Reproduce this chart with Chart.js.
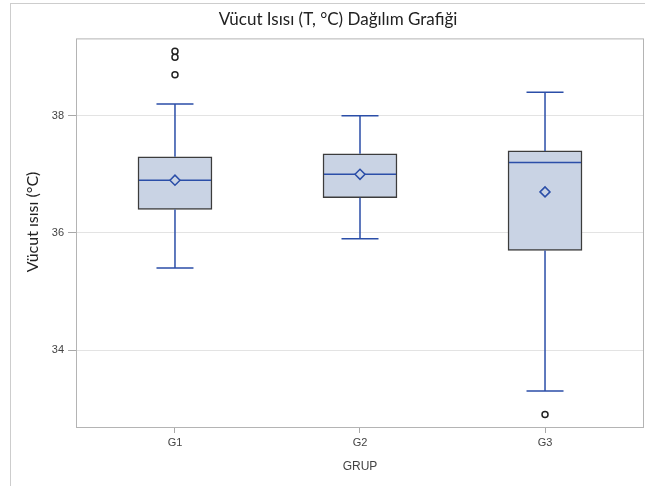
<!DOCTYPE html>
<html>
<head>
<meta charset="utf-8">
<script src="https://cdn.jsdelivr.net/npm/chart.js@4.4.1/dist/chart.umd.min.js"></script>
<style>
  html, body { margin: 0; padding: 0; background: #fff; }
  #wrap { position: relative; width: 645px; height: 486px; }
  #frame { position: absolute; left: 10px; top: 3px; right: 0; bottom: 0;
           border-left: 1px solid #cdcdcd; border-top: 1px solid #cdcdcd; }
  canvas { position: absolute; left: 0; top: 0; }
</style>
</head>
<body>
<div id="wrap">
  <div id="frame"></div>
  <canvas id="box" width="645" height="486"></canvas>
</div>
<script>
// body temperature per group (°C)
const groups = ["G1", "G2", "G3"];
const q1 = [36.4, 36.6, 35.7];
const q3 = [37.3, 37.35, 37.4];
const median = [36.9, 37.0, 37.2];
const mean = [36.9, 37.0, 36.7];
const whiskerLo = [35.4, 35.9, 33.3];
const whiskerHi = [38.2, 38.0, 38.4];
const outliersG1 = [38.7, 39.0, 39.1];
const outliersG3 = [32.9];
const yTicks = [34, 36, 38];

const BOX_FILL = "#c9d3e4";
const BOX_EDGE = "#3c3c3c";
const BLUE = "#2b4ea8";
const Y_TITLE = "Vücut ısısı (°C)";

const outlierPts = [];
outliersG1.forEach(v => outlierPts.push({ x: 1, y: v }));
outliersG3.forEach(v => outlierPts.push({ x: 3, y: v }));

// whiskers, caps and median line, drawn right after the boxes
const boxExtras = {
  id: "boxExtras",
  afterDatasetDraw(chart, args) {
    if (args.index !== 0) return;
    const ctx = chart.ctx, x = chart.scales.x, y = chart.scales.y;
    const bars = args.meta.data;
    ctx.save();
    ctx.strokeStyle = BLUE;
    ctx.lineWidth = 1.5;
    groups.forEach((g, i) => {
      const cx = x.getPixelForValue(i + 1);
      const half = bars[i].width / 2;
      const cap = half / 2;
      const yHi = y.getPixelForValue(whiskerHi[i]);
      const yLo = y.getPixelForValue(whiskerLo[i]);
      ctx.beginPath();
      ctx.moveTo(cx, y.getPixelForValue(q3[i]));
      ctx.lineTo(cx, yHi);
      ctx.moveTo(cx - cap, yHi);
      ctx.lineTo(cx + cap, yHi);
      ctx.moveTo(cx, y.getPixelForValue(q1[i]));
      ctx.lineTo(cx, yLo);
      ctx.moveTo(cx - cap, yLo);
      ctx.lineTo(cx + cap, yLo);
      const ym = y.getPixelForValue(median[i]);
      ctx.moveTo(cx - half + 1, ym);
      ctx.lineTo(cx + half - 1, ym);
      ctx.stroke();
    });
    ctx.restore();
  }
};

// grey frame round the plot area and the rotated y title
const plotFrame = {
  id: "plotFrame",
  afterDraw(chart) {
    const a = chart.chartArea, ctx = chart.ctx;
    ctx.save();
    ctx.strokeStyle = "#b4b4b4";
    ctx.lineWidth = 1;
    ctx.strokeRect(a.left + 0.5, a.top + 0.5, a.right - a.left - 1, a.bottom - a.top - 1);
    ctx.translate(33, 222);
    ctx.rotate(-Math.PI / 2);
    ctx.fillStyle = "#222";
    ctx.font = "16px Lato";
    ctx.textAlign = "center";
    ctx.textBaseline = "middle";
    ctx.fillText(Y_TITLE, 0, 0);
    ctx.restore();
  }
};

new Chart(document.getElementById("box"), {
  type: "bar",
  data: {
    datasets: [
      {
        label: "IQR",
        data: groups.map((g, i) => ({ x: i + 1, y: [q1[i], q3[i]] })),
        backgroundColor: BOX_FILL,
        borderColor: BOX_EDGE,
        borderWidth: 1.5,
        borderSkipped: false,
        barThickness: 74,
        order: 2
      },
      {
        type: "scatter",
        label: "Ortalama",
        data: groups.map((g, i) => ({ x: i + 1, y: mean[i] })),
        pointStyle: "rectRot",
        pointRadius: 5,
        pointBorderWidth: 1.5,
        pointBorderColor: BLUE,
        pointBackgroundColor: BOX_FILL,
        order: 1
      },
      {
        type: "scatter",
        label: "Aykırı",
        data: outlierPts,
        pointStyle: "circle",
        pointRadius: 3,
        pointBorderWidth: 1.5,
        pointBorderColor: "#222",
        pointBackgroundColor: "#fff",
        order: 1
      }
    ]
  },
  options: {
    responsive: false,
    animation: false,
    layout: { autoPadding: false, padding: { left: 32, right: 1, top: 0, bottom: 0 } },
    plugins: {
      legend: { display: false },
      tooltip: { enabled: false },
      title: {
        display: true,
        text: "Vücut Isısı (T, °C) Dağılım Grafiği",
        color: "#222",
        font: { family: "Lato", size: 17, weight: "normal" },
        padding: { top: 9, bottom: 9 }
      }
    },
    scales: {
      x: {
        type: "linear",
        offset: false,
        min: 0.465,
        max: 3.535,
        afterBuildTicks: s => { s.ticks = groups.map((g, i) => ({ value: i + 1 })); },
        afterFit: s => { s.height = 58; s.paddingLeft = 0; s.paddingRight = 0; },
        ticks: {
          callback: v => groups[v - 1],
          color: "#444",
          font: { family: "Liberation Sans", size: 11 },
          padding: 3,
          maxRotation: 0
        },
        grid: { offset: false, drawOnChartArea: false, tickLength: 5, tickColor: "#a8a8a8" },
        border: { display: false },
        title: {
          display: true,
          text: "GRUP",
          color: "#444",
          font: { family: "Liberation Sans", size: 12 },
          padding: { top: 0, bottom: 12 }
        }
      },
      y: {
        min: 32.67,
        max: 39.32,
        afterBuildTicks: s => { s.ticks = yTicks.map(v => ({ value: v })); },
        afterFit: s => { s.width = 44; },
        ticks: {
          color: "#444",
          font: { family: "Liberation Sans", size: 11 },
          padding: 4
        },
        grid: { color: "#e3e3e3", tickLength: 8, tickColor: "#a8a8a8" },
        border: { display: false },
        title: { display: false }
      }
    }
  },
  plugins: [boxExtras, plotFrame]
});
</script>
</body>
</html>
